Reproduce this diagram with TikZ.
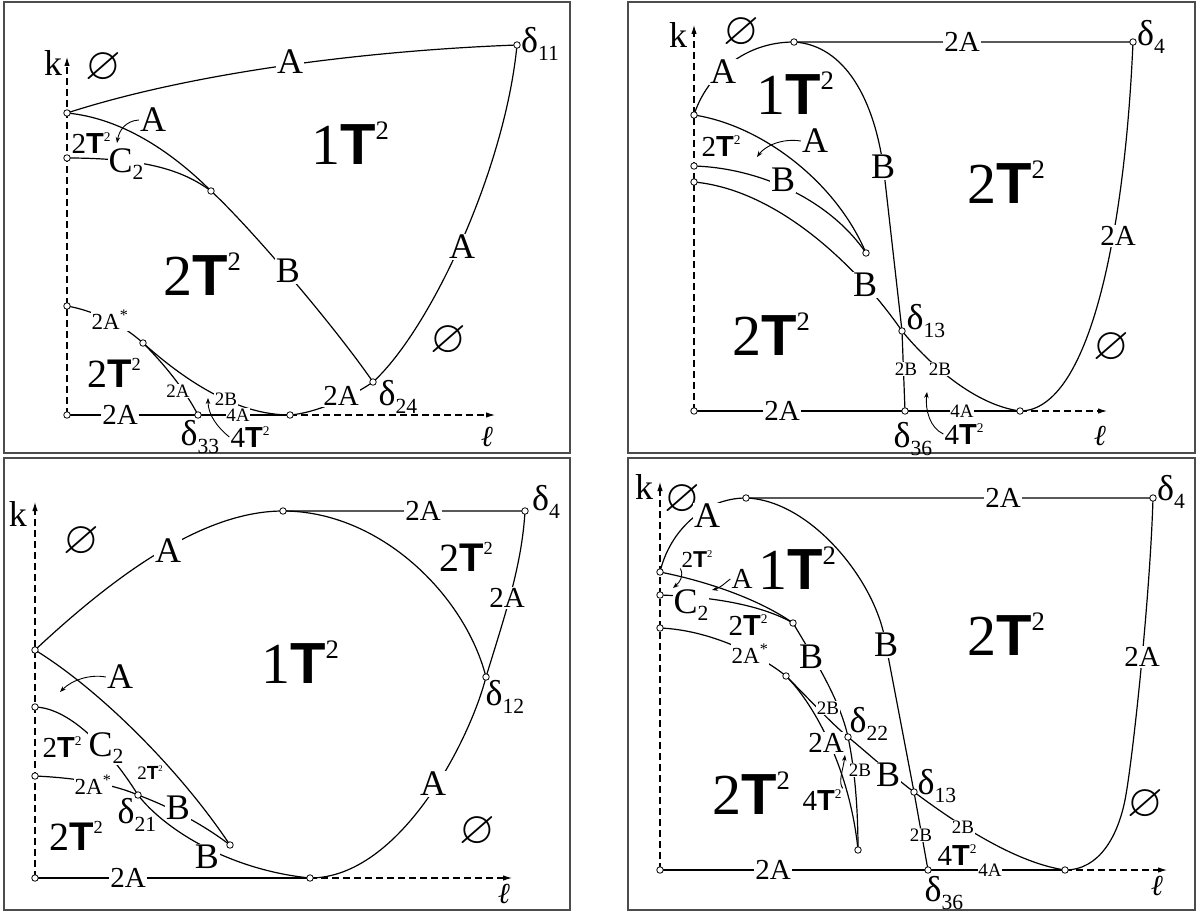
\documentclass[tikz,border=0pt]{standalone}
\usepackage{amssymb}
\usepackage{graphicx}
\usepackage{fontspec}
\setmainfont{Liberation Serif}
\setsansfont{Liberation Sans}
\usetikzlibrary{arrows.meta}

\newcommand{\tor}[1]{#1\textsf{\bfseries T}\raisebox{0.42em}{\scalebox{0.46}{2}}}
\newcommand{\dl}[1]{δ\raisebox{-0.2em}{\scalebox{0.6}{#1}}}
\newcommand{\Ctwo}{C\raisebox{-0.2em}{\scalebox{0.6}{2}}}
\newcommand{\vn}{$\varnothing$}
\newcommand{\ellx}{{\itshape ℓ}}

\begin{document}
\begin{tikzpicture}[x=1pt, y=-1pt,
    frame/.style={draw=black!70, line width=1.1pt},
    crv/.style={line width=1.2pt},
    axis/.style={line width=1.1pt, dash pattern=on 7pt off 4pt,
                 -{Latex[length=9pt,width=5.5pt]}},
    pt/.style={circle, draw, line width=0.8pt, fill=white,
               inner sep=0pt, minimum size=6.5pt},
    ltr/.style={font=\fontsize{36}{36}\selectfont, inner sep=1pt},
    lab/.style={font=\fontsize{29}{29}\selectfont, inner sep=1pt},
    med/.style={font=\fontsize{23}{23}\selectfont, inner sep=1pt},
    sml/.style={font=\fontsize{19}{19}\selectfont, inner sep=0.5pt},
    mid/.style={font=\fontsize{40}{40}\selectfont},
    big/.style={font=\fontsize{58}{58}\selectfont},
    nul/.style={font=\fontsize{46}{46}\selectfont},
    wht/.style={fill=white},
    ref/.style={line width=0.9pt, -{Stealth[length=6pt,width=4.5pt]}}
  ]
  \useasboundingbox (0,0) rectangle (1197,912);
  % Frames
  \draw[frame] (4,2) rectangle (570,453);
  \draw[frame] (628,2) rectangle (1195,453);
  \draw[frame] (4,458) rectangle (570,910);
  \draw[frame] (628,458) rectangle (1195,910);

  % Panel 1 (top left)
  \coordinate (o1) at (67,415);
  \coordinate (k1) at (67,57);
  \coordinate (l1) at (495,415);
  \coordinate (p1a) at (67,113);
  \coordinate (p1b) at (67,158);
  \coordinate (p1c) at (67,306);
  \coordinate (d11) at (517,45);
  \coordinate (q1) at (211,191);
  \coordinate (d24) at (373,382);
  \coordinate (t1) at (290,415);
  \coordinate (r1) at (143,343);
  \coordinate (d33) at (198,415);
  \draw[axis] (o1) -- (k1);
  \draw[axis] (t1) -- (l1);
  \draw[crv] (o1) -- (d33) -- (t1);
  \draw[crv] (p1a) .. controls (200,70) and (380,50) .. (d11);
  \draw[crv] (p1a) .. controls (120,118) and (170,150) .. (q1)
             .. controls (245,222) and (330,320) .. (d24);
  \draw[crv] (p1b) .. controls (150,158) and (185,172) .. (q1);
  \draw[crv] (d24) .. controls (430,330) and (505,170) .. (d11);
  \draw[crv] (t1) .. controls (315,413) and (350,398) .. (d24);
  \draw[crv] (p1c) .. controls (90,310) and (120,322) .. (r1);
  \draw[crv] (r1) .. controls (190,385) and (240,415) .. (t1);
  \draw[crv] (r1) .. controls (165,365) and (185,390) .. (d33);
  % labels
  \node[ltr] (k1l) at (53,63) {k};
  \node[lab] (l1l) at (487,437) {\ellx};
  \node[nul] (n1a) at (103,68) {\vn};
  \node[nul] (n1b) at (448,341) {\vn};
  \node[ltr, wht] (a1a) at (290,62) {A};
  \node[ltr, wht] (a1b) at (462,247) {A};
  \node[ltr, wht] (b1a) at (288,271) {B};
  \node[ltr, wht] (c1a) at (126,164) {\Ctwo};
  \node[lab, wht] (x1a) at (120,415) {2A};
  \node[lab, wht] (x1b) at (341,396) {2A};
  \node[med, wht] (x1c) at (110,320) {2A\textsuperscript{*}};
  \node[sml, wht] (x1d) at (238,415) {4A};
  \node[sml, wht] (x1e) at (226,399) {2B};
  \node[sml, wht] (x1f) at (178,391) {2A};
  \node[ltr] (a1c) at (153,120) {A};
  \node[lab] (s1a) at (91,143) {\tor{2}};
  \node[lab] (f1a) at (250,437) {\tor{4}};
  \node[mid] (s1b) at (114,373) {\tor{2}};
  \node[big] (s1c) at (202,274) {\tor{2}};
  \node[big] (g1a) at (350,143) {\tor{1}};
  \node[ltr] (d11l) at (540,44) {\dl{11}};
  \node[ltr] (d24l) at (398,397) {\dl{24}};
  \node[ltr] (d33l) at (200,437) {\dl{33}};
  \coordinate (r1a) at (117,143);
  \coordinate (r1b) at (208,398);
  \draw[ref] (a1c.west) .. controls (125,121) and (119,131) .. (r1a);
  \draw[ref] (f1a.west) .. controls (218,428) and (208,415) .. (r1b);

  % Panel 2 (top right)
  \coordinate (o2) at (694,411);
  \coordinate (k2) at (694,25);
  \coordinate (l2) at (1107,411);
  \coordinate (p2a) at (694,115);
  \coordinate (p2b) at (694,166);
  \coordinate (p2c) at (694,182);
  \coordinate (u2) at (794,42);
  \coordinate (d4a) at (1133,42);
  \coordinate (q2) at (866,253);
  \coordinate (d13a) at (902,331);
  \coordinate (d36a) at (905,411);
  \coordinate (t2) at (1020,411);
  \coordinate (v2) at (884,172);
  \draw[axis] (o2) -- (k2);
  \draw[axis] (t2) -- (l2);
  \draw[crv] (o2) -- (d36a) -- (t2);
  \draw[crv] (p2a) .. controls (705,80) and (740,42) .. (u2) -- (d4a);
  \draw[crv] (u2) .. controls (845,45) and (875,100) .. (v2) -- (d13a) -- (d36a);
  \draw[crv] (p2a) .. controls (760,125) and (835,180) .. (q2);
  \draw[crv] (p2b) .. controls (760,168) and (830,200) .. (q2);
  \draw[crv] (p2c) .. controls (780,190) and (860,270) .. (d13a)
             .. controls (930,365) and (975,405) .. (t2);
  \draw[crv] (t2) .. controls (1090,411) and (1125,230) .. (d4a);
  % labels
  \node[ltr] (k2l) at (678,35) {k};
  \node[lab] (l2l) at (1100,436) {\ellx};
  \node[nul] (n2a) at (741,33) {\vn};
  \node[nul] (n2b) at (1111,348) {\vn};
  \node[ltr, wht] (a2a) at (723,72) {A};
  \node[lab, wht] (x2a) at (962,42) {2A};
  \node[ltr, wht] (b2a) at (883,167) {B};
  \node[ltr, wht] (b2b) at (783,180) {B};
  \node[ltr, wht] (b2c) at (865,285) {B};
  \node[sml, wht] (x2b) at (906,369) {2B};
  \node[sml, wht] (x2c) at (940,369) {2B};
  \node[lab, wht] (x2d) at (782,411) {2A};
  \node[sml, wht] (x2e) at (962,411) {4A};
  \node[lab, wht] (x2f) at (1118,236) {2A};
  \node[ltr] (a2b) at (815,141) {A};
  \node[lab] (s2a) at (721,146) {\tor{2}};
  \node[lab] (f2a) at (964,434) {\tor{4}};
  \node[big] (g2a) at (795,93) {\tor{1}};
  \node[big] (s2b) at (1006,182) {\tor{2}};
  \node[big] (s2c) at (771,334) {\tor{2}};
  \node[ltr] (d4al) at (1151,37) {\dl{4}};
  \node[ltr] (d13al) at (926,321) {\dl{13}};
  \node[ltr] (d36al) at (913,439) {\dl{36}};
  \coordinate (r2a) at (757,157);
  \coordinate (r2b) at (927,392);
  \draw[ref] (a2b.west) .. controls (782,138) and (765,146) .. (r2a);
  \draw[ref] (f2a.west) .. controls (930,428) and (925,410) .. (r2b);

  % Panel 3 (bottom left)
  \coordinate (o3) at (35,878);
  \coordinate (k3) at (35,502);
  \coordinate (l3) at (512,878);
  \coordinate (p3a) at (35,650);
  \coordinate (p3b) at (35,707);
  \coordinate (p3c) at (35,776);
  \coordinate (u3) at (283,511);
  \coordinate (d4b) at (525,511);
  \coordinate (d12) at (486,677);
  \coordinate (t3) at (310,878);
  \coordinate (e3) at (230,845);
  \coordinate (d21) at (138,795);
  \draw[axis] (o3) -- (k3);
  \draw[axis] (t3) -- (l3);
  \draw[crv] (o3) -- (t3);
  \draw[crv] (p3a) .. controls (110,580) and (200,511) .. (u3) -- (d4b);
  \draw[crv] (u3) .. controls (380,511) and (465,595) .. (d12);
  \draw[crv] (d4b) .. controls (522,565) and (505,615) .. (d12);
  \draw[crv] (d12) .. controls (470,740) and (400,878) .. (t3);
  \draw[crv] (p3a) .. controls (100,690) and (180,770) .. (e3);
  \draw[crv] (p3b) .. controls (70,708) and (110,750) .. (d21)
             .. controls (165,830) and (230,870) .. (t3);
  \draw[crv] (p3c) .. controls (80,778) and (115,785) .. (d21)
             .. controls (165,805) and (200,822) .. (e3);
  % labels
  \node[ltr] (k3l) at (18,514) {k};
  \node[lab] (l3l) at (504,894) {\ellx};
  \node[nul] (n3a) at (81,542) {\vn};
  \node[nul] (n3b) at (477,832) {\vn};
  \node[ltr, wht] (a3a) at (168,551) {A};
  \node[lab, wht] (x3a) at (423,511) {2A};
  \node[lab, wht] (x3b) at (507,598) {2A};
  \node[ltr, wht] (a3b) at (433,784) {A};
  \node[lab, wht] (x3c) at (128,878) {2A};
  \node[ltr, wht] (c3a) at (106,748) {\Ctwo};
  \node[med, wht] (x3d) at (93,785) {2A\textsuperscript{*}};
  \node[ltr, wht] (b3a) at (178,808) {B};
  \node[ltr, wht] (b3b) at (207,857) {B};
  \node[ltr] (a3c) at (120,677) {A};
  \node[lab] (s3a) at (62,747) {\tor{2}};
  \node[sml] (s3b) at (150,773) {\tor{2}};
  \node[mid] (s3c) at (76,836) {\tor{2}};
  \node[mid] (s3d) at (466,557) {\tor{2}};
  \node[big] (g3a) at (300,662) {\tor{1}};
  \node[ltr] (d4bl) at (546,502) {\dl{4}};
  \node[ltr] (d12l) at (505,697) {\dl{12}};
  \node[ltr] (d21l) at (137,815) {\dl{21}};
  \coordinate (r3a) at (60,692);
  \draw[ref] (a3c.west) .. controls (90,674) and (72,680) .. (r3a);

  % Panel 4 (bottom right)
  \coordinate (o4) at (660,870);
  \coordinate (k4) at (660,482);
  \coordinate (l4) at (1167,870);
  \coordinate (p4a) at (660,572);
  \coordinate (p4b) at (660,595);
  \coordinate (p4c) at (660,628);
  \coordinate (u4) at (746,498);
  \coordinate (d4c) at (1153,498);
  \coordinate (q4) at (793,623);
  \coordinate (r4) at (786,676);
  \coordinate (d22) at (848,737);
  \coordinate (d13b) at (914,792);
  \coordinate (d36b) at (928,870);
  \coordinate (t4) at (1065,870);
  \coordinate (s4) at (858,850);
  \coordinate (v4) at (885,640);
  \coordinate (w4) at (1125,800);
  \draw[axis] (o4) -- (k4);
  \draw[axis] (t4) -- (l4);
  \draw[crv] (o4) -- (d36b) -- (t4);
  \draw[crv] (p4a) .. controls (670,530) and (705,498) .. (u4) -- (d4c);
  \draw[crv] (u4) .. controls (810,500) and (875,580) .. (v4) -- (d13b) -- (d36b);
  \draw[crv] (t4) .. controls (1100,870) and (1118,835) .. (w4)
             .. controls (1132,765) and (1150,600) .. (d4c);
  \draw[crv] (p4a) .. controls (710,582) and (760,600) .. (q4);
  \draw[crv] (p4b) .. controls (720,597) and (765,607) .. (q4);
  \draw[crv] (q4) .. controls (815,660) and (840,700) .. (d22)
             .. controls (855,770) and (858,810) .. (s4);
  \draw[crv] (p4c) .. controls (710,630) and (760,655) .. (r4);
  \draw[crv] (r4) .. controls (810,700) and (830,722) .. (d22)
             .. controls (870,755) and (895,778) .. (d13b)
             .. controls (945,815) and (1010,862) .. (t4);
  \draw[crv] (r4) .. controls (815,705) and (850,770) .. (s4);
  % labels
  \node[ltr] (k4l) at (644,487) {k};
  \node[lab] (l4l) at (1157,886) {\ellx};
  \node[nul] (n4a) at (682,500) {\vn};
  \node[nul] (n4b) at (1145,805) {\vn};
  \node[ltr, wht] (a4a) at (707,516) {A};
  \node[lab, wht] (x4a) at (1003,498) {2A};
  \node[ltr, wht] (b4a) at (886,645) {B};
  \node[lab, wht] (x4b) at (1142,657) {2A};
  \node[ltr, wht] (c4a) at (691,605) {\Ctwo};
  \node[med, wht] (x4c) at (750,654) {2A\textsuperscript{*}};
  \node[ltr, wht] (b4b) at (811,657) {B};
  \node[sml, wht] (x4d) at (828,708) {2B};
  \node[lab, wht] (x4e) at (826,743) {2A};
  \node[sml, wht] (x4f) at (860,770) {2B};
  \node[ltr, wht] (b4c) at (888,775) {B};
  \node[sml, wht] (x4g) at (921,835) {2B};
  \node[sml, wht] (x4h) at (963,827) {2B};
  \node[lab, wht] (x4i) at (773,870) {2A};
  \node[sml, wht] (x4j) at (990,870) {4A};
  \node[lab] (a4b) at (742,579) {A};
  \node[med] (s4a) at (697,559) {\tor{2}};
  \node[lab] (s4b) at (748,625) {\tor{2}};
  \node[lab] (f4a) at (822,800) {\tor{4}};
  \node[lab] (f4b) at (957,855) {\tor{4}};
  \node[big] (g4a) at (797,568) {\tor{1}};
  \node[big] (s4c) at (751,793) {\tor{2}};
  \node[big] (s4d) at (1006,634) {\tor{2}};
  \node[ltr] (d4cl) at (1171,492) {\dl{4}};
  \node[ltr] (d22l) at (869,724) {\dl{22}};
  \node[ltr] (d13bl) at (937,786) {\dl{13}};
  \node[ltr] (d36bl) at (944,893) {\dl{36}};
  \coordinate (r4a) at (673,588);
  \coordinate (r4b) at (712,590);
  \coordinate (r4c) at (845,755);
  \draw[ref] (s4a.south west) .. controls (684,576) and (680,582) .. (r4a);
  \draw[ref] (a4b.west) .. controls (725,583) and (720,588) .. (r4b);
  \draw[ref] (f4a.north east) .. controls (838,782) and (843,770) .. (r4c);

  % Points
  \foreach \p in {o1,p1a,p1b,p1c,d11,q1,d24,t1,r1,d33,
                  o2,p2a,p2b,p2c,u2,d4a,q2,d13a,d36a,t2,
                  o3,p3a,p3b,p3c,u3,d4b,d12,t3,e3,d21,
                  o4,p4a,p4b,p4c,u4,d4c,q4,r4,d22,d13b,d36b,t4,s4}
    \node[pt] (dot-\p) at (\p) {};
\end{tikzpicture}
\end{document}
